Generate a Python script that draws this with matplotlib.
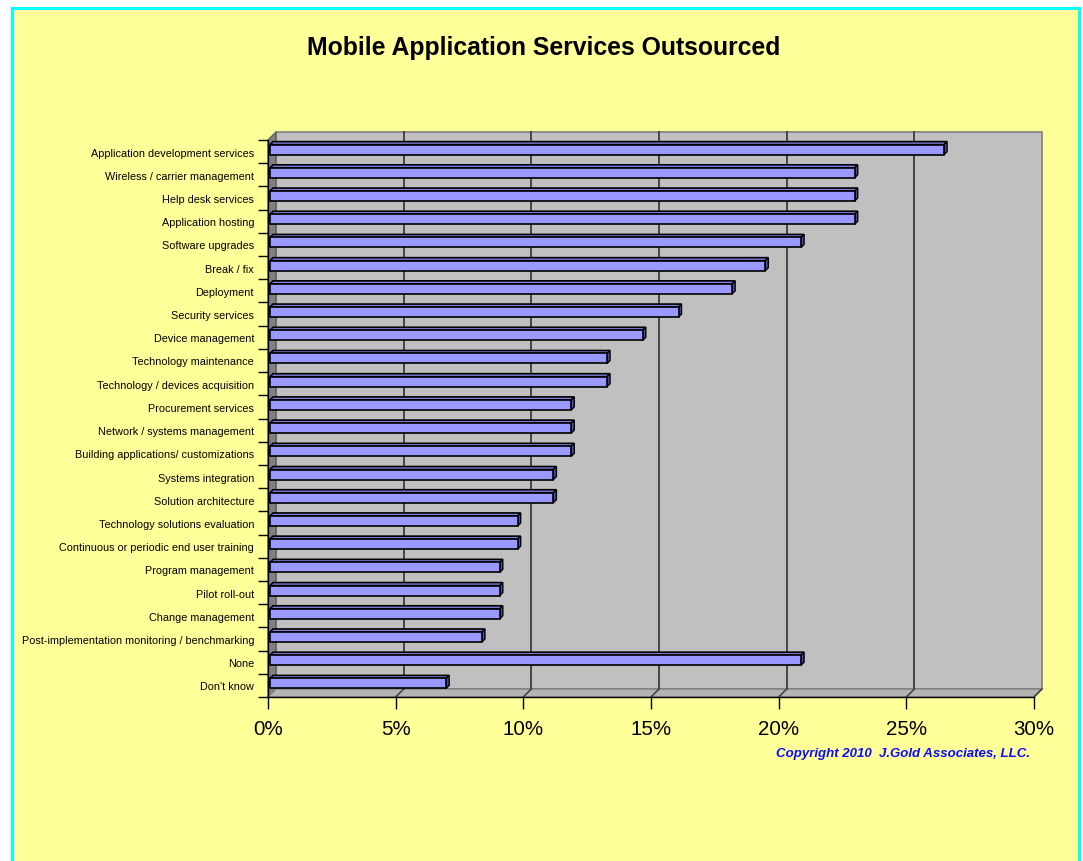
import matplotlib
matplotlib.use('Agg')
import matplotlib.pyplot as plt
from matplotlib.patches import Polygon, Rectangle
from matplotlib.transforms import offset_copy, IdentityTransform
import numpy as np

plt.rcParams['font.family'] = ['Liberation Sans', 'DejaVu Sans']

title = 'Mobile Application Services Outsourced'
copyright_text = 'Copyright 2010  J.Gold Associates, LLC.'

categories = [
    'Application development services',
    'Wireless / carrier management',
    'Help desk services',
    'Application hosting',
    'Software upgrades',
    'Break / fix',
    'Deployment',
    'Security services',
    'Device management',
    'Technology maintenance',
    'Technology / devices acquisition',
    'Procurement services',
    'Network / systems management',
    'Building applications/ customizations',
    'Systems integration',
    'Solution architecture',
    'Technology solutions evaluation',
    'Continuous or periodic end user training',
    'Program management',
    'Pilot roll-out',
    'Change management',
    'Post-implementation monitoring / benchmarking',
    'None',
    "Don't know",
]
values = [26.4, 22.9, 22.9, 22.9, 20.8, 19.4, 18.1, 16.0, 14.6, 13.2, 13.2,
          11.8, 11.8, 11.8, 11.1, 11.1, 9.7, 9.7, 9.0, 9.0, 9.0, 8.3, 20.8, 6.9]
x_ticks = [0, 5, 10, 15, 20, 25, 30]
x_tick_labels = ['0%', '5%', '10%', '15%', '20%', '25%', '30%']

W, H = 1083, 862
fig = plt.figure(figsize=(W / 100, H / 100), dpi=100)
fig.patch.set_facecolor('white')

# yellow panel with cyan border
fig.patches.append(Rectangle((11.5 / W, -0.02), (1078.5 - 11.5) / W, 1.02 - 8.5 / H,
                             transform=fig.transFigure, facecolor='#FFFF99',
                             edgecolor='#00FFFF', lw=2.2, zorder=-10))

# front plane of the 3D box
L, R, T, B = 268, 1034, 141, 698
ax = fig.add_axes([L / W, 1 - B / H, (R - L) / W, (B - T) / H])
ax.set_zorder(1)
n = len(categories)
ax.set_xlim(0, 30)
ax.set_ylim(n - 0.5, -0.5)
ax.patch.set_visible(False)
for s in ['top', 'right']:
    ax.spines[s].set_visible(False)
ax.spines['left'].set_color('black')
ax.spines['bottom'].set_color('black')
ax.spines['left'].set_linewidth(1.0)
ax.spines['bottom'].set_linewidth(1.0)

D = 8  # wall depth in px
back = offset_copy(ax.transData, fig=fig, x=D, y=D, units='dots')
ident = IdentityTransform()

ymin, ymax = n - 0.5, -0.5
# back wall
ax.add_patch(Rectangle((0, ymax), 30, ymin - ymax, transform=back,
                       facecolor='#C0C0C0', edgecolor='#808080', lw=1.2,
                       clip_on=False, zorder=0.5))
# gridlines on back wall
for t in x_ticks[1:-1]:
    ax.plot([t, t], [ymin, ymax], transform=back, color='#454545', lw=1.4,
            clip_on=False, zorder=0.6)


def disp(x, y):
    return ax.transData.transform((x, y))


# left wall
p_ft = disp(0, ymax)
p_fb = disp(0, ymin)
left_wall = [p_ft, p_fb, p_fb + D, p_ft + D]
ax.add_patch(Polygon(left_wall, closed=True, transform=ident, facecolor='#808080',
                     edgecolor='#606060', lw=1.0, clip_on=False, zorder=0.55))
# floor
p_fr = disp(30, ymin)
floor = [p_fb, p_fr, p_fr + D, p_fb + D]
ax.add_patch(Polygon(floor, closed=True, transform=ident, facecolor='#B4B4B4',
                     edgecolor='#808080', lw=1.0, clip_on=False, zorder=0.55))
for t in x_ticks[1:]:
    p = disp(t, ymin)
    ax.plot([p[0], p[0] + D], [p[1], p[1] + D], transform=ident, color='#454545',
            lw=1.2, clip_on=False, zorder=0.6)

# bars
ypos = np.arange(n)
bar_off = offset_copy(ax.transData, fig=fig, x=2, y=2, units='dots')
bars = ax.barh(ypos, values, height=0.43, left=0, color='#9999FF',
               edgecolor='black', linewidth=1.2, zorder=3)
d = 3
for rect in bars:
    rect.set_transform(bar_off)
    rect.set_clip_on(False)
    x0, y0 = rect.get_x(), rect.get_y()
    w, h = rect.get_width(), rect.get_height()
    a = bar_off.transform((x0, y0))
    b = bar_off.transform((x0 + w, y0 + h))
    xl, xr = a[0], b[0]
    yt, yb = max(a[1], b[1]), min(a[1], b[1])
    top = [(xl, yt), (xr, yt), (xr + d, yt + d), (xl + d, yt + d)]
    side = [(xr, yb), (xr, yt), (xr + d, yt + d), (xr + d, yb + d)]
    ax.add_patch(Polygon(top, closed=True, transform=ident, facecolor='#8080E0',
                         edgecolor='black', lw=1.2, clip_on=False, zorder=2.9))
    ax.add_patch(Polygon(side, closed=True, transform=ident, facecolor='#4D4D99',
                         edgecolor='black', lw=1.0, clip_on=False, zorder=2.9))

# ticks and labels
ax.set_yticks(ypos)
ax.set_yticklabels(categories, fontsize=7.8)
ax.tick_params(axis='y', which='major', length=0, pad=10)
ax.set_yticks(np.arange(n + 1) - 0.5, minor=True)
ax.tick_params(axis='y', which='minor', length=10 * 0.72, width=1.0, color='black')
ax.set_xticks(x_ticks)
ax.set_xticklabels(x_tick_labels, fontsize=14.8)
ax.tick_params(axis='x', which='major', length=12 * 0.72, width=1.0, pad=7)

fig.text(544 / W, 1 - 48 / H, title, ha='center', va='center', fontsize=17.8,
         fontweight='bold')
fig.text(1030 / W, 1 - 754 / H, copyright_text, ha='right', va='center',
         fontsize=9.5, fontweight='bold', fontstyle='italic', color='#0A0AFF')

fig.savefig('out.png', dpi=100, facecolor=fig.get_facecolor())
